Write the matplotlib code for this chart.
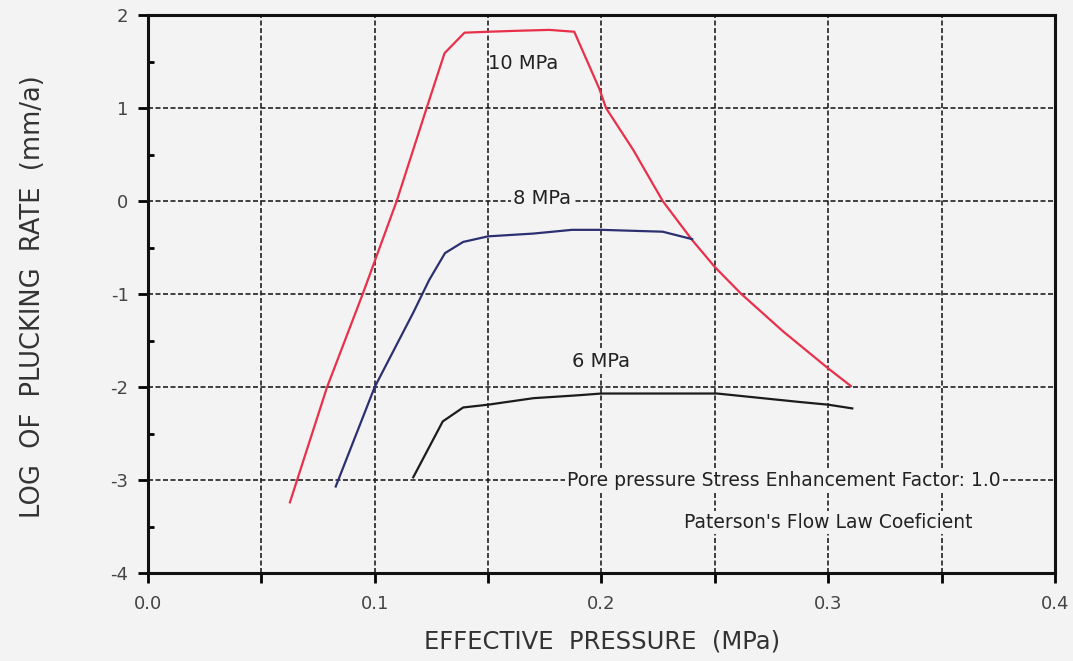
import numpy as np
import matplotlib
matplotlib.use('Agg')
import matplotlib.pyplot as plt
from matplotlib.ticker import MultipleLocator


# values
pressure_10 = [0.0626, 0.079, 0.0947, 0.1097, 0.1229, 0.1308, 0.1396, 0.150, 0.1625,
               0.177, 0.188, 0.199, 0.202, 0.214, 0.227, 0.240, 0.250, 0.2617, 0.280,
               0.300, 0.310]
rate_10 = [-3.24, -2.0, -1.0, 0.0, 1.0, 1.59, 1.81, 1.82, 1.83,
           1.84, 1.82, 1.21, 1.0, 0.55, 0.0, -0.42, -0.71, -1.0, -1.40,
           -1.80, -1.99]

pressure_8 = [0.0828, 0.100, 0.117, 0.124, 0.131, 0.139, 0.150, 0.170, 0.187, 0.200,
              0.227, 0.240]
rate_8 = [-3.07, -2.0, -1.2, -0.85, -0.56, -0.44, -0.38, -0.35, -0.31, -0.31,
          -0.33, -0.41]

pressure_6 = [0.117, 0.130, 0.139, 0.150, 0.170, 0.189, 0.200, 0.251, 0.287, 0.300, 0.3106]
rate_6 = [-2.97, -2.37, -2.22, -2.19, -2.12, -2.09, -2.07, -2.07, -2.16, -2.19, -2.23]

x_ticks = [0.0, 0.1, 0.2, 0.3, 0.4]
x_tick_labels = ['0.0', '0.1', '0.2', '0.3', '0.4']
y_ticks = [-4, -3, -2, -1, 0, 1, 2]

paper = '#f4f3f4'
plt.rcParams['axes.unicode_minus'] = False


def main():
    fig = plt.figure(figsize=(10.73, 6.61), dpi=100, facecolor=paper)
    ax = fig.add_axes([0.1379, 0.1331, 0.8453, 0.8442], facecolor=paper)

    ax.plot(pressure_10, rate_10, color='#e8304a', lw=1.6, zorder=3)
    ax.plot(pressure_8, rate_8, color='#2b3070', lw=1.6, zorder=3)
    ax.plot(pressure_6, rate_6, color='#1c1c1c', lw=1.6, zorder=3)

    ax.set_xlim(0, 0.4)
    ax.set_ylim(-4, 2)
    ax.set_xticks(x_ticks)
    ax.set_xticklabels(x_tick_labels)
    ax.xaxis.set_minor_locator(MultipleLocator(0.05))
    ax.set_yticks(y_ticks)
    ax.yaxis.set_minor_locator(MultipleLocator(0.5))

    ax.tick_params(axis='x', which='both', direction='out', length=7, width=2,
                   pad=9, labelsize=13, labelcolor='#444444')
    ax.tick_params(axis='y', which='major', direction='out', length=7, width=2,
                   pad=7, labelsize=13, labelcolor='#444444')
    ax.tick_params(axis='y', which='minor', direction='in', length=4, width=2)

    ax.grid(True, which='both', axis='x', color='#222222', lw=1.2, ls=(0, (3, 1.5)))
    ax.grid(True, which='major', axis='y', color='#222222', lw=1.2, ls=(0, (3, 1.5)))
    ax.set_axisbelow(True)

    for side in ['left', 'bottom', 'top', 'right']:
        ax.spines[side].set_linewidth(2.2)
        ax.spines[side].set_color('#111111')

    box = dict(facecolor=paper, edgecolor='none', pad=1.5)
    ax.text(0.150, 1.48, '10 MPa', fontsize=14, color='#222222', va='center', zorder=4)
    ax.text(0.161, 0.03, '8 MPa', fontsize=14, color='#222222', va='center', bbox=box, zorder=4)
    ax.text(0.1868, -1.73, '6 MPa', fontsize=14, color='#222222', va='center', bbox=box, zorder=4)
    ax.text(0.185, -3.0, 'Pore pressure Stress Enhancement Factor: 1.0', fontsize=13.5,
            color='#222222', va='center', bbox=box, zorder=4)
    ax.text(0.2366, -3.46, "Paterson's Flow Law Coeficient", fontsize=13.5,
            color='#222222', va='center', bbox=box, zorder=4)

    fig.text(0.561, 0.029, 'EFFECTIVE  PRESSURE  (MPa)', fontsize=17.5, color='#333333',
             ha='center', va='center')
    fig.text(0.031, 0.551, 'LOG  OF  PLUCKING  RATE  (mm/a)', fontsize=18.5, color='#333333',
             ha='center', va='center', rotation=90)

    fig.savefig('out.png', dpi=100, facecolor=paper)


if __name__ == '__main__':
    main()
